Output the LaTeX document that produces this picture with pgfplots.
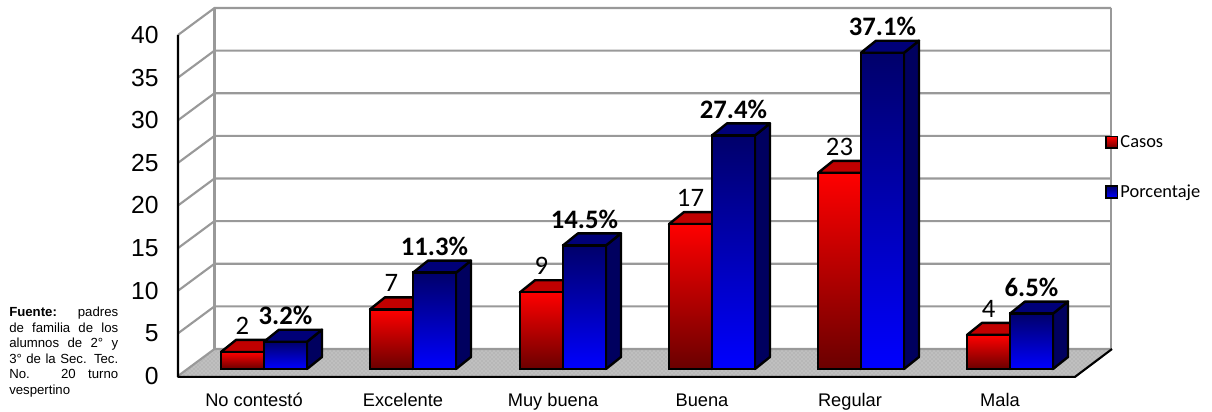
\documentclass[border=0pt]{standalone}
\usepackage{pgfplots}
\usepackage{fontspec}
\pgfplotsset{compat=1.18}
\usetikzlibrary{patterns}
\setmainfont{Liberation Sans}
\newfontfamily\calfont{Carlito}
\definecolor{wall}{HTML}{999999}
\definecolor{floorc}{HTML}{BFBFBF}
\definecolor{redtop}{HTML}{C00000}
\definecolor{redside}{HTML}{7A0000}
\definecolor{redbot}{HTML}{6A0000}
\definecolor{redmid}{HTML}{E80000}
\definecolor{bluetop}{HTML}{000078}
\definecolor{blueside}{HTML}{00005F}
\definecolor{bluehi}{HTML}{00006A}
\definecolor{bluemid}{HTML}{0000B0}
\pgfplotsset{base/.style={
  scale only axis, width=700.5pt, height=255.75pt,
  xmin=178, xmax=1112, clip=false},
  face/.style={draw=black, line width=1.8pt, line join=round},
  barR/.style={ybar, bar width=43, /pgf/bar shift=0pt, draw=black, line width=1.8pt,
    top color=red, middle color=redmid, bottom color=redbot, point meta=y,
    /pgf/number format/assume math mode=true,
    nodes near coords={\pgfmathprintnumber[fixed,precision=0,assume math mode=true]{\pgfplotspointmeta}},
    every node near coord/.append style={anchor=center, yshift=19.5pt, font=\calfont\fontsize{20}{22}\selectfont, black}},
  barB/.style={ybar, bar width=43, /pgf/bar shift=0pt, draw=black, line width=1.8pt,
    top color=bluehi, middle color=bluemid, bottom color=blue, point meta=y,
    nodes near coords={\pgfmathprintnumber[fixed,fixed zerofill,precision=1,assume math mode=true]{\pgfplotspointmeta}\%},
    every node near coord/.append style={anchor=center, yshift=19.5pt, font=\calfont\bfseries\fontsize{20}{22}\selectfont, black}},
}
\begin{document}
\begin{tikzpicture}
\path[use as bounding box] (-133.5pt,-26.25pt) rectangle (775.5pt,282pt);
\begin{axis}[base, ymin=0, ymax=40,
  axis line style={draw=none}, tick style={draw=none},
  ytick={0,5,...,40}, ytick pos=left, xtick pos=bottom,
  /pgf/number format/assume math mode=true,
  yticklabel style={font=\fontsize{18.5}{20}\selectfont, xshift=-11pt},
  xtick={254,403,553,702,850,1000},
  xticklabels={No contestó,Excelente,Muy buena,Buena,Regular,Mala},
  xticklabel style={font=\fontsize{13.7}{16}\selectfont, text height=10pt, text depth=3pt, yshift=-9pt},
]
% floor
\addplot[fill=floorc, draw=none, postaction={pattern=crosshatch dots, pattern color=black!38}] coordinates {(178,0)(1075,0)(1112,3.167)(214.5,3.167)} --cycle;
% walls
\addplot[wall, line width=1.6pt] coordinates {(178,0)(214.5,3.167)(1111,3.167)};
\addplot[wall, line width=1.6pt] coordinates {(178,5)(214.5,8.167)(1111,8.167)};
\addplot[wall, line width=1.6pt] coordinates {(178,10)(214.5,13.167)(1111,13.167)};
\addplot[wall, line width=1.6pt] coordinates {(178,15)(214.5,18.167)(1111,18.167)};
\addplot[wall, line width=1.6pt] coordinates {(178,20)(214.5,23.167)(1111,23.167)};
\addplot[wall, line width=1.6pt] coordinates {(178,25)(214.5,28.167)(1111,28.167)};
\addplot[wall, line width=1.6pt] coordinates {(178,30)(214.5,33.167)(1111,33.167)};
\addplot[wall, line width=1.6pt] coordinates {(178,35)(214.5,38.167)(1111,38.167)};
\addplot[wall, line width=1.6pt] coordinates {(178,40)(214.5,43.167)(1111,43.167)};
\addplot[wall, line width=1.6pt] coordinates {(214.5,3.167)(214.5,43.167)};
\addplot[wall, line width=1.6pt] coordinates {(1111,3.167)(1111,43.167)};
% front axis lines
\addplot[black, line width=1.6pt, line join=round] coordinates {(178,40)(178,-0.1)(1075,-0.1)(1112,3.167)};
\node[anchor=north west, inner sep=0pt, align=left, font=\fontsize{9.9}{11.6}\selectfont]
  at (axis cs:9,8.1) {%
  \makebox[81.75pt][s]{\textbf{Fuente:} padres}\\
  \makebox[81.75pt][s]{de familia de los}\\
  \makebox[81.75pt][s]{alumnos de 2° y}\\
  \makebox[81.75pt][s]{3° de la Sec. Tec.}\\
  \makebox[81.75pt][s]{No. 20 turno}\\
  vespertino};
\end{axis}
\begin{axis}[base, ymin=-0.821, ymax=39.179, hide axis,
  legend style={at={(0.9925,0.612)}, anchor=west, draw=none, fill=none,
    font=\calfont\fontsize{13.8}{15}\selectfont, row sep=23.5pt, inner sep=0pt, outer sep=0pt,
    nodes={inner sep=1.5pt}, legend cell align=left},
  legend image code/.code={\draw[#1, line width=1.3pt] (-4.4pt,-4.4pt) rectangle (4.4pt,4.4pt);},
]
% Casos: sides and tops
\addplot[forget plot, fill=redside, face] coordinates {(264,0)(279,1.41)(279,3.41)(264,2)} --cycle;
\addplot[forget plot, fill=redtop, face] coordinates {(221,2)(236,3.41)(279,3.41)(264,2)} --cycle;
\addplot[forget plot, fill=redside, face] coordinates {(413,0)(428,1.41)(428,8.41)(413,7)} --cycle;
\addplot[forget plot, fill=redtop, face] coordinates {(370,7)(385,8.41)(428,8.41)(413,7)} --cycle;
\addplot[forget plot, fill=redside, face] coordinates {(563,0)(578,1.41)(578,10.41)(563,9)} --cycle;
\addplot[forget plot, fill=redtop, face] coordinates {(520,9)(535,10.41)(578,10.41)(563,9)} --cycle;
\addplot[forget plot, fill=redside, face] coordinates {(712,0)(727,1.41)(727,18.41)(712,17)} --cycle;
\addplot[forget plot, fill=redtop, face] coordinates {(669,17)(684,18.41)(727,18.41)(712,17)} --cycle;
\addplot[forget plot, fill=redside, face] coordinates {(861,0)(876,1.41)(876,24.41)(861,23)} --cycle;
\addplot[forget plot, fill=redtop, face] coordinates {(818,23)(833,24.41)(876,24.41)(861,23)} --cycle;
\addplot[forget plot, fill=redside, face] coordinates {(1010,0)(1025,1.41)(1025,5.41)(1010,4)} --cycle;
\addplot[forget plot, fill=redtop, face] coordinates {(967,4)(982,5.41)(1025,5.41)(1010,4)} --cycle;
% Casos: fronts
\addplot[barR] coordinates {(242.5,2)};
\addlegendentry{Casos}
\addplot[barR, forget plot] coordinates {(391.5,7)};
\addplot[barR, forget plot] coordinates {(541.5,9)};
\addplot[barR, forget plot] coordinates {(690.5,17)};
\addplot[barR, forget plot] coordinates {(839.5,23)};
\addplot[barR, forget plot] coordinates {(988.5,4)};
% Porcentaje: sides and tops
\addplot[forget plot, fill=blueside, face] coordinates {(307,0)(322,1.41)(322,4.61)(307,3.2)} --cycle;
\addplot[forget plot, fill=bluetop, face] coordinates {(264,3.2)(279,4.61)(322,4.61)(307,3.2)} --cycle;
\addplot[forget plot, fill=blueside, face] coordinates {(456,0)(471,1.41)(471,12.71)(456,11.3)} --cycle;
\addplot[forget plot, fill=bluetop, face] coordinates {(413,11.3)(428,12.71)(471,12.71)(456,11.3)} --cycle;
\addplot[forget plot, fill=blueside, face] coordinates {(606,0)(621,1.41)(621,15.91)(606,14.5)} --cycle;
\addplot[forget plot, fill=bluetop, face] coordinates {(563,14.5)(578,15.91)(621,15.91)(606,14.5)} --cycle;
\addplot[forget plot, fill=blueside, face] coordinates {(755,0)(770,1.41)(770,28.81)(755,27.4)} --cycle;
\addplot[forget plot, fill=bluetop, face] coordinates {(712,27.4)(727,28.81)(770,28.81)(755,27.4)} --cycle;
\addplot[forget plot, fill=blueside, face] coordinates {(904,0)(919,1.41)(919,38.51)(904,37.1)} --cycle;
\addplot[forget plot, fill=bluetop, face] coordinates {(861,37.1)(876,38.51)(919,38.51)(904,37.1)} --cycle;
\addplot[forget plot, fill=blueside, face] coordinates {(1053,0)(1068,1.41)(1068,7.91)(1053,6.5)} --cycle;
\addplot[forget plot, fill=bluetop, face] coordinates {(1010,6.5)(1025,7.91)(1068,7.91)(1053,6.5)} --cycle;
% Porcentaje: fronts
\addplot[barB] coordinates {(285.5,3.2)};
\addlegendentry{Porcentaje}
\addplot[barB, forget plot] coordinates {(434.5,11.3)};
\addplot[barB, forget plot] coordinates {(584.5,14.5)};
\addplot[barB, forget plot] coordinates {(733.5,27.4)};
\addplot[barB, forget plot] coordinates {(882.5,37.1)};
\addplot[barB, forget plot] coordinates {(1031.5,6.5)};
\end{axis}
\end{tikzpicture}
\end{document}
